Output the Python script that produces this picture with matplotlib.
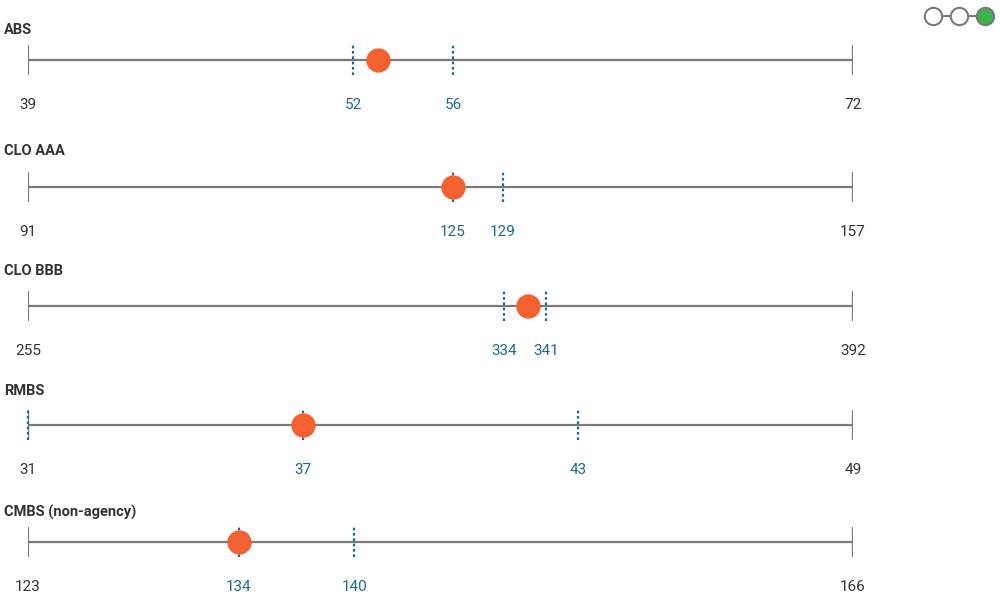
import matplotlib
matplotlib.use("Agg")
import matplotlib.pyplot as plt
from matplotlib.transforms import blended_transform_factory

plt.rcParams['font.family'] = ['Roboto', 'DejaVu Sans']

# data
sectors = ["ABS", "CLO AAA", "CLO BBB", "RMBS", "CMBS (non-agency)"]
range_min = [39, 91, 255, 31, 123]
range_max = [72, 157, 392, 49, 166]
marker_lo = [52, 125, 334, 37, 134]
marker_hi = [56, 129, 341, 43, 140]
extra_marker = [None, None, None, 31, None]
current = [53, 125, 338, 37, 134]
signal_states = [0, 0, 1]   # top-right indicator, last one lit

# layout (pixels from top)
W, H = 1000, 612
line_y = [60, 187, 306, 425, 542]
title_y = [30, 151, 271, 391, 512]
x0, x1 = 28, 853

grey = "#7a7a7a"
blue = "#1d6a94"
orange = "#f2612f"
dark = "#333333"

fig = plt.figure(figsize=(W / 100, H / 100), dpi=100)

for i, name in enumerate(sectors):
    ly = line_y[i]
    ax = fig.add_axes([x0 / W, (H - ly - 50) / H, (x1 - x0) / W, 100 / H])
    ax.set_xlim(range_min[i], range_max[i])
    ax.set_ylim(-50, 50)
    ax.axis("off")

    ax.plot([range_min[i], range_max[i]], [0, 0], color=grey, lw=1.6, solid_capstyle="butt", zorder=1)
    for v in (range_min[i], range_max[i]):
        ax.plot([v, v], [-15, 15], color=grey, lw=1.6, solid_capstyle="butt", zorder=1)

    marks = [marker_lo[i], marker_hi[i]]
    if extra_marker[i] is not None:
        marks.append(extra_marker[i])
    for v in marks:
        ax.plot([v, v], [-15, 15], color=blue, lw=1.6, ls=(0, (1.2, 1.2)), zorder=2, clip_on=False)

    ax.plot([current[i]], [0], "o", color=orange, ms=17.5, mew=0, zorder=3, clip_on=False)

    ax.text(range_min[i], -45, str(range_min[i]), ha="center", va="center", fontsize=11, color=dark)
    ax.text(range_max[i], -45, str(range_max[i]), ha="center", va="center", fontsize=11, color=dark)
    ax.text(marker_lo[i], -45, str(marker_lo[i]), ha="center", va="center", fontsize=11, color=blue)
    ax.text(marker_hi[i], -45, str(marker_hi[i]), ha="center", va="center", fontsize=11, color=blue)

    tr = blended_transform_factory(fig.transFigure, ax.transData)
    ax.text(4 / W, ly - title_y[i], name, transform=tr, ha="left", va="center",
            fontsize=10.5, fontweight="bold", color=dark)

# indicator circles top right
lax = fig.add_axes([920 / W, (H - 32) / H, 80 / W, 32 / H])
lax.set_xlim(0, 80)
lax.set_ylim(-16, 16)
lax.axis("off")
xs = [13 + 26 * k for k in range(len(signal_states))]
lax.plot([xs[0], xs[-1]], [0, 0], color=grey, lw=1.5, zorder=1)
for xx, s in zip(xs, signal_states):
    lax.plot([xx], [0], "o", ms=12.5, mfc="#3cb44b" if s else "white", mec=grey, mew=1.5, zorder=2)

fig.savefig("out.png", dpi=100)
